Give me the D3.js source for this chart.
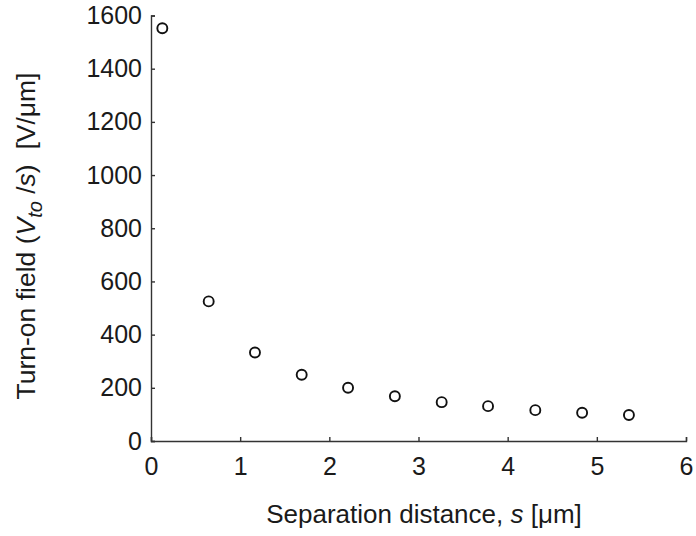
<!DOCTYPE html>
<html>
<head>
<meta charset="utf-8">
<script src="https://cdn.jsdelivr.net/npm/d3@7"></script>
<style>
  body { margin: 0; background: #fff; }
  text { font-family: "Liberation Sans", Arial, sans-serif; fill: #1a1a1a; white-space: pre; }
</style>
</head>
<body>
<svg id="chart" width="696" height="536"></svg>
<script>
// Data
const separation = [0.127, 0.647, 1.166, 1.69, 2.21, 2.735, 3.26, 3.78, 4.31, 4.835, 5.36];
const turnOnField = [1552, 525, 333, 249, 200, 168, 146, 131, 116, 106, 98];
const xTicks = [0, 1, 2, 3, 4, 5, 6];
const yTicks = [0, 200, 400, 600, 800, 1000, 1200, 1400, 1600];

const svg = d3.select("#chart");
const margin = { left: 151, right: 10, top: 15.5, bottom: 95 };
const width = 696, height = 536;
const fontSize = 25;

const x = d3.scaleLinear().domain([0, 6]).range([margin.left, width - margin.right]);
const y = d3.scaleLinear().domain([0, 1600]).range([height - margin.bottom, margin.top]);

const axisColor = "#333";

// X axis (ticks point inward)
const xAxis = svg.append("g")
  .attr("transform", `translate(0,${y(0)})`)
  .call(d3.axisBottom(x).tickValues(xTicks).tickFormat(d3.format("d"))
    .tickSizeInner(-4).tickSizeOuter(-4).tickPadding(16));
xAxis.selectAll("path, line").attr("stroke", axisColor).attr("stroke-width", 1.4);
xAxis.selectAll("text").attr("font-size", fontSize).attr("fill", "#1a1a1a");

// Y axis
const yAxis = svg.append("g")
  .attr("transform", `translate(${x(0)},0)`)
  .call(d3.axisLeft(y).tickValues(yTicks).tickFormat(d3.format("d"))
    .tickSizeInner(-4).tickSizeOuter(-4).tickPadding(9));
yAxis.selectAll("path, line").attr("stroke", axisColor).attr("stroke-width", 1.4);
yAxis.selectAll("text").attr("font-size", fontSize).attr("fill", "#1a1a1a");
svg.selectAll("g").attr("font-family", null);

// Points
svg.append("g")
  .selectAll("circle")
  .data(separation.map((s, i) => ({ s, v: turnOnField[i] })))
  .enter()
  .append("circle")
  .attr("cx", d => x(d.s))
  .attr("cy", d => y(d.v))
  .attr("r", 5)
  .attr("fill", "none")
  .attr("stroke", "#111")
  .attr("stroke-width", 1.9);

// X label
const xl = svg.append("text")
  .attr("x", 424)
  .attr("y", 523)
  .attr("text-anchor", "middle")
  .attr("font-size", 26);
xl.append("tspan").text("Separation distance, ");
xl.append("tspan").attr("font-style", "italic").text("s");
xl.append("tspan").text(" [\u03bcm]");

// Y label
const yl = svg.append("text")
  .attr("transform", "translate(35,236) rotate(-90)")
  .attr("text-anchor", "middle")
  .attr("font-size", 26.5);
yl.append("tspan").text("Turn-on field (");
yl.append("tspan").attr("font-style", "italic").text("V");
yl.append("tspan").attr("font-style", "italic").attr("font-size", 20).attr("dy", 7).text("to");
yl.append("tspan").attr("dy", -7).text(" /");
yl.append("tspan").attr("font-style", "italic").text("s");
yl.append("tspan").text(")  [V/\u03bcm]");
</script>
</body>
</html>
